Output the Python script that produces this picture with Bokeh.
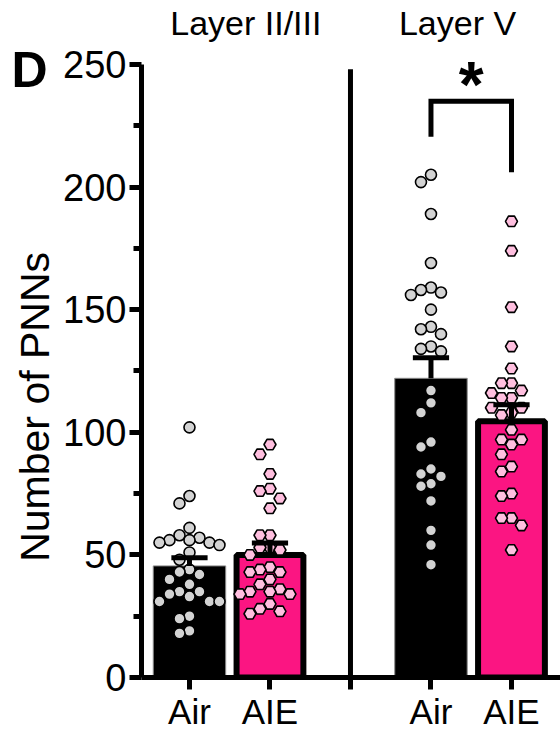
import math
import numpy as np
from bokeh.plotting import figure
from bokeh.layouts import row
from bokeh.models import Range1d, FixedTicker, Label
from bokeh.core.properties import value
from bokeh.embed import file_html
from bokeh.resources import INLINE

# ---------------- data ----------------
layers = ["Layer II/III", "Layer V"]
groups = ["Air", "AIE", "Air", "AIE"]
slots = [1, 2, 4, 5]          # category slots (slot 3 = layer divider)
divider_slot = 3
layer_title_pos = [1.70, 4.33]

air_l23 = [102, 74, 71, 61, 58, 57, 56, 56, 55, 55, 54, 51, 48, 44, 43, 42, 40, 38,
           35, 35, 34, 33, 31, 31, 31, 25, 24, 19, 18]
aie_l23 = [95, 91, 83, 77, 76, 73, 69, 58, 58, 53, 53, 52, 50, 45, 44, 43, 43, 40,
           38, 36, 35, 35, 34, 34, 30, 28, 27, 26]
air_l5 = [205, 202, 189, 169, 159, 158, 157, 156, 150, 143, 142, 140, 135, 134, 133,
          117, 112, 108, 96, 94, 85, 83, 82, 79, 78, 72, 60, 54, 46]
aie_l5 = [186, 174, 151, 135, 126, 120, 120, 117, 116, 114, 114, 110, 110, 108, 107,
          101, 97, 97, 95, 91, 86, 84, 75, 74, 65, 65, 62, 52]

means = [45.5, 50.0, 122.0, 104.5]
sems = [3.3, 4.8, 8.4, 6.7]

y_ticks = [0, 50, 100, 150, 200, 250]
y_minor = [25, 75, 125, 175, 225]

# ---------------- styling / layout ----------------
FONT = "Liberation Sans"
PINK = "#fb1582"
HEX_FILL = "#ffbfdf"
DOT_FILL = "#d3d3d3"

TOTAL_H = 733
LW = 60                      # left strip (panel letter + y title)
W = 500
BL, BR, BT, BB = 81, 0, 0, 55
FRAME_H = TOTAL_H - BT - BB  # 678 px: value 0 sits at the frame bottom
AXIS_TOP_PX = 64             # where the value 250 sits, from the page top
px_y = (FRAME_H - AXIS_TOP_PX) / 250.0
Y0, Y1 = 0, FRAME_H / px_y   # frame extends above 250 for titles / annotations
X0, X1 = 0.404, 5.609
px_x = (W - BL - BR) / (X1 - X0)

def y_at(page_px):
    """data y for a given page pixel row (annotation placement only)."""
    return (FRAME_H - page_px) / px_y

p = figure(width=W, height=TOTAL_H, x_range=Range1d(X0, X1), y_range=Range1d(Y0, Y1),
           output_backend="svg", toolbar_location=None,
           min_border_left=BL, min_border_right=BR, min_border_top=BT, min_border_bottom=BB)
p.outline_line_color = None
p.grid.visible = False

# y axis
ya = p.yaxis[0]
ya.ticker = FixedTicker(ticks=y_ticks, minor_ticks=y_minor)
ya.bounds = (0, 250)
ya.axis_line_width = 5
ya.major_tick_line_width = 5
ya.minor_tick_line_width = 5
ya.major_tick_in = 0
ya.major_tick_out = 12
ya.minor_tick_in = 0
ya.minor_tick_out = 8
ya.major_label_text_font = FONT
ya.major_label_text_font_size = "38px"
ya.major_label_text_color = "black"
ya.major_label_standoff = 3

# x axis
xa = p.xaxis[0]
xa.ticker = FixedTicker(ticks=sorted(slots + [divider_slot]))
xa.major_label_overrides = {**{s: g for s, g in zip(slots, groups)}, divider_slot: ""}
xa.axis_line_width = 5
xa.major_tick_line_width = 5
xa.major_tick_in = 0
xa.major_tick_out = 12
xa.minor_tick_line_color = None
xa.major_label_text_font = FONT
xa.major_label_text_font_size = "35px"
xa.major_label_text_color = "black"
xa.major_label_standoff = 2

# layer titles
p.text(x=layer_title_pos, y=[y_at(23)] * 2, text=layers, text_font=value(FONT),
       text_font_size="34px", text_align="center", text_baseline="alphabetic",
       text_color="black")

# bars
p.vbar(x=[slots[0], slots[2]], top=[means[0], means[2]], width=0.9,
       fill_color="black", line_color="#8a8a8a", line_width=1)
p.vbar(x=[slots[1], slots[3]], top=[means[1], means[3]], width=0.83,
       fill_color=PINK, line_color="black", line_width=6)

# beeswarm
def swarm(vals, center, d=10.0):
    vals = np.asarray(vals, float)
    order = np.argsort(-vals, kind="stable")
    placed = []
    xs = np.zeros(len(vals))
    for i in order:
        ypx = vals[i] * px_y
        for k in [0, -1, 1, -2, 2, -3, 3, -4, 4, -5, 5]:
            if all(not (c == k and abs(yy - ypx) < d) for c, yy in placed):
                placed.append((k, ypx))
                xs[i] = center + k * d / px_x
                break
    return xs

series = [air_l23, aie_l23, air_l5, aie_l5]
for s, vals, g in zip(slots, series, groups):
    xs = swarm(vals, s)
    if g == "Air":
        p.scatter(xs, vals, marker="circle", size=11, fill_color=DOT_FILL,
                  line_color="black", line_width=1.6)
    else:
        p.scatter(xs, vals, marker="hex", size=12, fill_color=HEX_FILL,
                  line_color="black", line_width=1.6)

# error bars (upper)
cap = 0.45
tops = [m + e for m, e in zip(means, sems)]
p.segment(x0=slots, y0=means, x1=slots, y1=tops, line_color="black", line_width=5)
p.segment(x0=[s - cap / 2 for s in slots], y0=tops, x1=[s + cap / 2 for s in slots], y1=tops,
          line_color="black", line_width=5)

# layer divider
p.segment(x0=[divider_slot], y0=[0], x1=[divider_slot], y1=[248], line_color="black", line_width=5)

# significance bracket (Layer V: Air vs AIE)
br_top, br_left, br_right = 235, 220.5, 206
p.line(x=[slots[2], slots[2], slots[3], slots[3]], y=[br_left, br_top, br_top, br_right],
       line_color="black", line_width=5, line_join="miter")
p.add_layout(Label(x=(slots[2] + slots[3]) / 2, y=241.5, text="*", text_font=FONT,
                   text_color="black", text_font_style="bold", text_font_size="64px",
                   text_align="center", text_baseline="alphabetic"))

# left strip: panel letter and y title (shares the y scale of the chart)
left = figure(width=LW, height=TOTAL_H, x_range=Range1d(0, LW), y_range=p.y_range,
              output_backend="svg", toolbar_location=None, x_axis_type=None, y_axis_type=None,
              min_border_left=0, min_border_right=0, min_border_top=BT, min_border_bottom=BB)
left.outline_line_color = None
left.grid.visible = False
left.text(x=[11], y=[y_at(70)], text=["D"], text_font=value(FONT), text_font_style="bold",
          text_font_size="50px", text_align="left", text_baseline="alphabetic", text_color="black")
left.text(x=[34], y=[y_at(407)], text=["Number of PNNs"], angle=math.pi / 2,
          text_font=value(FONT), text_font_size="41px", text_align="center",
          text_baseline="middle", text_color="black")

layout = row(left, p)
open("out.html", "w").write(file_html(layout, INLINE))
